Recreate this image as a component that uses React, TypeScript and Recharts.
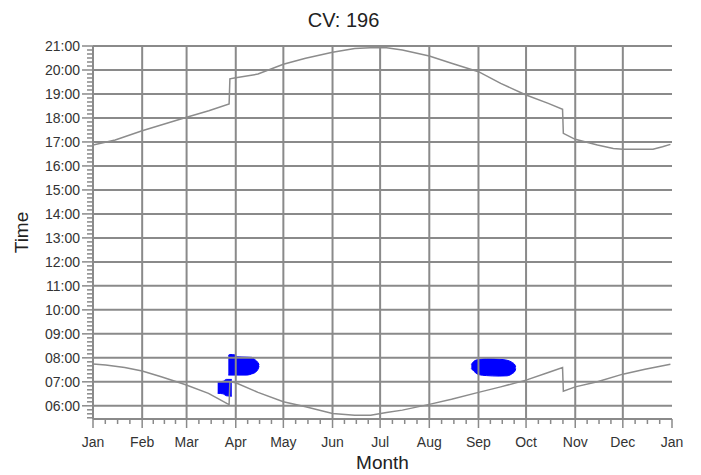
import { ComposedChart, Line, Area, XAxis, YAxis, ReferenceLine } from 'recharts';

const monthLabels = ['Jan', 'Feb', 'Mar', 'Apr', 'May', 'Jun', 'Jul', 'Aug', 'Sep', 'Oct', 'Nov', 'Dec', 'Jan'];
const monthStarts = [0, 31, 59, 90, 120, 151, 181, 212, 243, 273, 304, 334, 365];
const hourTicks = [6, 7, 8, 9, 10, 11, 12, 13, 14, 15, 16, 17, 18, 19, 20, 21];

// upper curve (day of year, hours)
const sunsetDay = [0, 14, 31, 45, 59, 73, 85.8, 86.3, 90, 104, 120, 134, 151, 165, 175, 185, 195, 212, 226, 243, 257, 273, 287, 296, 296.5, 304, 318, 328, 334, 353, 359, 364];
const sunsetTime = [16.87, 17.08, 17.47, 17.75, 18.03, 18.3, 18.58, 19.63, 19.68, 19.83, 20.24, 20.49, 20.74, 20.9, 20.93, 20.93, 20.83, 20.58, 20.28, 19.93, 19.44, 18.96, 18.61, 18.36, 17.36, 17.11, 16.87, 16.73, 16.7, 16.7, 16.8, 16.9];

// lower curve
const sunriseDay = [0, 8, 20, 31, 43, 58, 72.8, 84.3, 85.8, 86.3, 90, 104, 120, 134, 151, 165, 175, 185, 195, 212, 226, 243, 257, 273, 287, 296, 296.5, 304, 318, 334, 348, 364];
const sunriseTime = [7.74, 7.7, 7.6, 7.45, 7.21, 6.89, 6.52, 6.1, 6.05, 7.0, 6.96, 6.56, 6.17, 5.96, 5.68, 5.61, 5.61, 5.72, 5.82, 6.06, 6.27, 6.56, 6.79, 7.07, 7.39, 7.6, 6.61, 6.79, 7.0, 7.32, 7.52, 7.73];

// blue patches (day, low, high)
const blobADay = [85.3, 86.4, 89.6, 90.8, 97, 100, 102, 104, 104.7];
const blobALow = [7.28, 7.28, 7.28, 7.28, 7.28, 7.33, 7.38, 7.52, 7.65];
const blobAHigh = [8.1, 8.14, 8.12, 8.04, 8.03, 8.02, 7.93, 7.8, 7.72];

const blobBDay = [78.6, 82, 84, 87.5];
const blobBLow = [6.52, 6.5, 6.42, 6.4];
const blobBHigh = [7.0, 7.02, 7.1, 7.1];

const blobCDay = [238.5, 240, 243, 248, 256, 261, 264, 266, 266.5];
const blobCLow = [7.55, 7.45, 7.3, 7.26, 7.24, 7.25, 7.33, 7.45, 7.55];
const blobCHigh = [7.72, 7.85, 7.93, 7.96, 7.94, 7.9, 7.82, 7.7, 7.62];

const sunset = sunsetDay.map((d, i) => ({ day: d, t: sunsetTime[i] }));
const sunrise = sunriseDay.map((d, i) => ({ day: d, t: sunriseTime[i] }));
const blobA = blobADay.map((d, i) => ({ day: d, r: [blobALow[i], blobAHigh[i]] }));
const blobB = blobBDay.map((d, i) => ({ day: d, r: [blobBLow[i], blobBHigh[i]] }));
const blobC = blobCDay.map((d, i) => ({ day: d, r: [blobCLow[i], blobCHigh[i]] }));

// quarter-month minor ticks
const minorX: number[] = [];
for (let i = 0; i < 12; i++) {
  const len = monthStarts[i + 1] - monthStarts[i];
  for (let k = 1; k < 4; k++) minorX.push(monthStarts[i] + (len * k) / 4);
}
const xTicks = [...monthStarts, ...minorX].sort((a, b) => a - b);

// 10-minute minor ticks
const yTicks: number[] = [];
[5, ...hourTicks].forEach((h) => {
  for (let k = 0; k < 6; k++) {
    const v = h + k / 6;
    if (v >= 5.45 && v <= 21.0001) yTicks.push(v);
  }
});

const GRID = '#8a8a8a';
const FONT = '"Liberation Sans", Arial, sans-serif';

const fmtHour = (v: number) => `${String(Math.round(v)).padStart(2, '0')}:00`;

const XTick = (props: any) => {
  const { x, y, payload } = props;
  const idx = monthStarts.indexOf(payload.value);
  const major = idx >= 0;
  return (
    <g>
      <line x1={x} x2={x} y1={y} y2={y + (major ? 9 : 5)} stroke={GRID} strokeWidth={1.5} />
      {major && (
        <text x={x} y={y + 28} textAnchor="middle" fontSize={14} fill="#333">
          {monthLabels[idx]}
        </text>
      )}
    </g>
  );
};

const YTick = (props: any) => {
  const { x, y, payload } = props;
  const v = payload.value;
  const major = Math.abs(v - Math.round(v)) < 1e-6;
  return (
    <g>
      <line x1={x} x2={x - (major ? 11 : 6)} y1={y} y2={y} stroke={GRID} strokeWidth={1.5} />
      {major && (
        <text x={x - 13} y={y} dy="0.35em" textAnchor="end" fontSize={14} fill="#333">
          {fmtHour(v)}
        </text>
      )}
    </g>
  );
};

export default function App() {
  return (
    <div style={{ position: 'absolute', left: 0, top: 0, width: 701, height: 475, background: '#fff', fontFamily: FONT }}>
      <div style={{ position: 'absolute', left: 0, top: 10, width: 687, textAlign: 'center', fontSize: 20, lineHeight: '20px', color: '#222' }}>
        CV: 196
      </div>
      <ComposedChart
        width={701}
        height={475}
        margin={{ top: 46, right: 29, bottom: 0, left: 0 }}
        style={{ fontFamily: FONT }}
      >
        <XAxis
          type="number"
          dataKey="day"
          domain={[0, 365]}
          ticks={xTicks}
          interval={0}
          tickSize={0}
          tickMargin={0}
          tickLine={false}
          tick={XTick}
          height={56}
          axisLine={{ stroke: GRID, strokeWidth: 2 }}
          allowDataOverflow
          label={{ value: 'Month', position: 'insideBottom', offset: 6, fontSize: 19, fill: '#222' }}
        />
        <YAxis
          type="number"
          domain={[5.45, 21]}
          ticks={yTicks}
          interval={0}
          tickSize={0}
          tickMargin={0}
          tickLine={false}
          tick={YTick}
          width={93}
          axisLine={{ stroke: GRID, strokeWidth: 2 }}
          allowDataOverflow
          label={{ value: 'Time', angle: -90, position: 'insideLeft', offset: 21, fontSize: 19, fill: '#222', style: { textAnchor: 'middle' } }}
        />
        {hourTicks.map((h) => (
          <ReferenceLine key={'h' + h} y={h} stroke={GRID} strokeWidth={2} />
        ))}
        {monthStarts.slice(1, 12).map((d) => (
          <ReferenceLine key={'v' + d} x={d} stroke={GRID} strokeWidth={2} />
        ))}
        <Area data={blobA} dataKey="r" type="monotone" stroke="#0000ff" strokeWidth={1} fill="#0000ff" fillOpacity={1} isAnimationActive={false} />
        <Area data={blobB} dataKey="r" type="monotone" stroke="#0000ff" strokeWidth={1} fill="#0000ff" fillOpacity={1} isAnimationActive={false} />
        <Area data={blobC} dataKey="r" type="monotone" stroke="#0000ff" strokeWidth={1} fill="#0000ff" fillOpacity={1} isAnimationActive={false} />
        <Line data={sunset} dataKey="t" type="linear" stroke="#8c8c8c" strokeWidth={1.5} dot={false} isAnimationActive={false} />
        <Line data={sunrise} dataKey="t" type="linear" stroke="#8c8c8c" strokeWidth={1.5} dot={false} isAnimationActive={false} />
      </ComposedChart>
    </div>
  );
}
